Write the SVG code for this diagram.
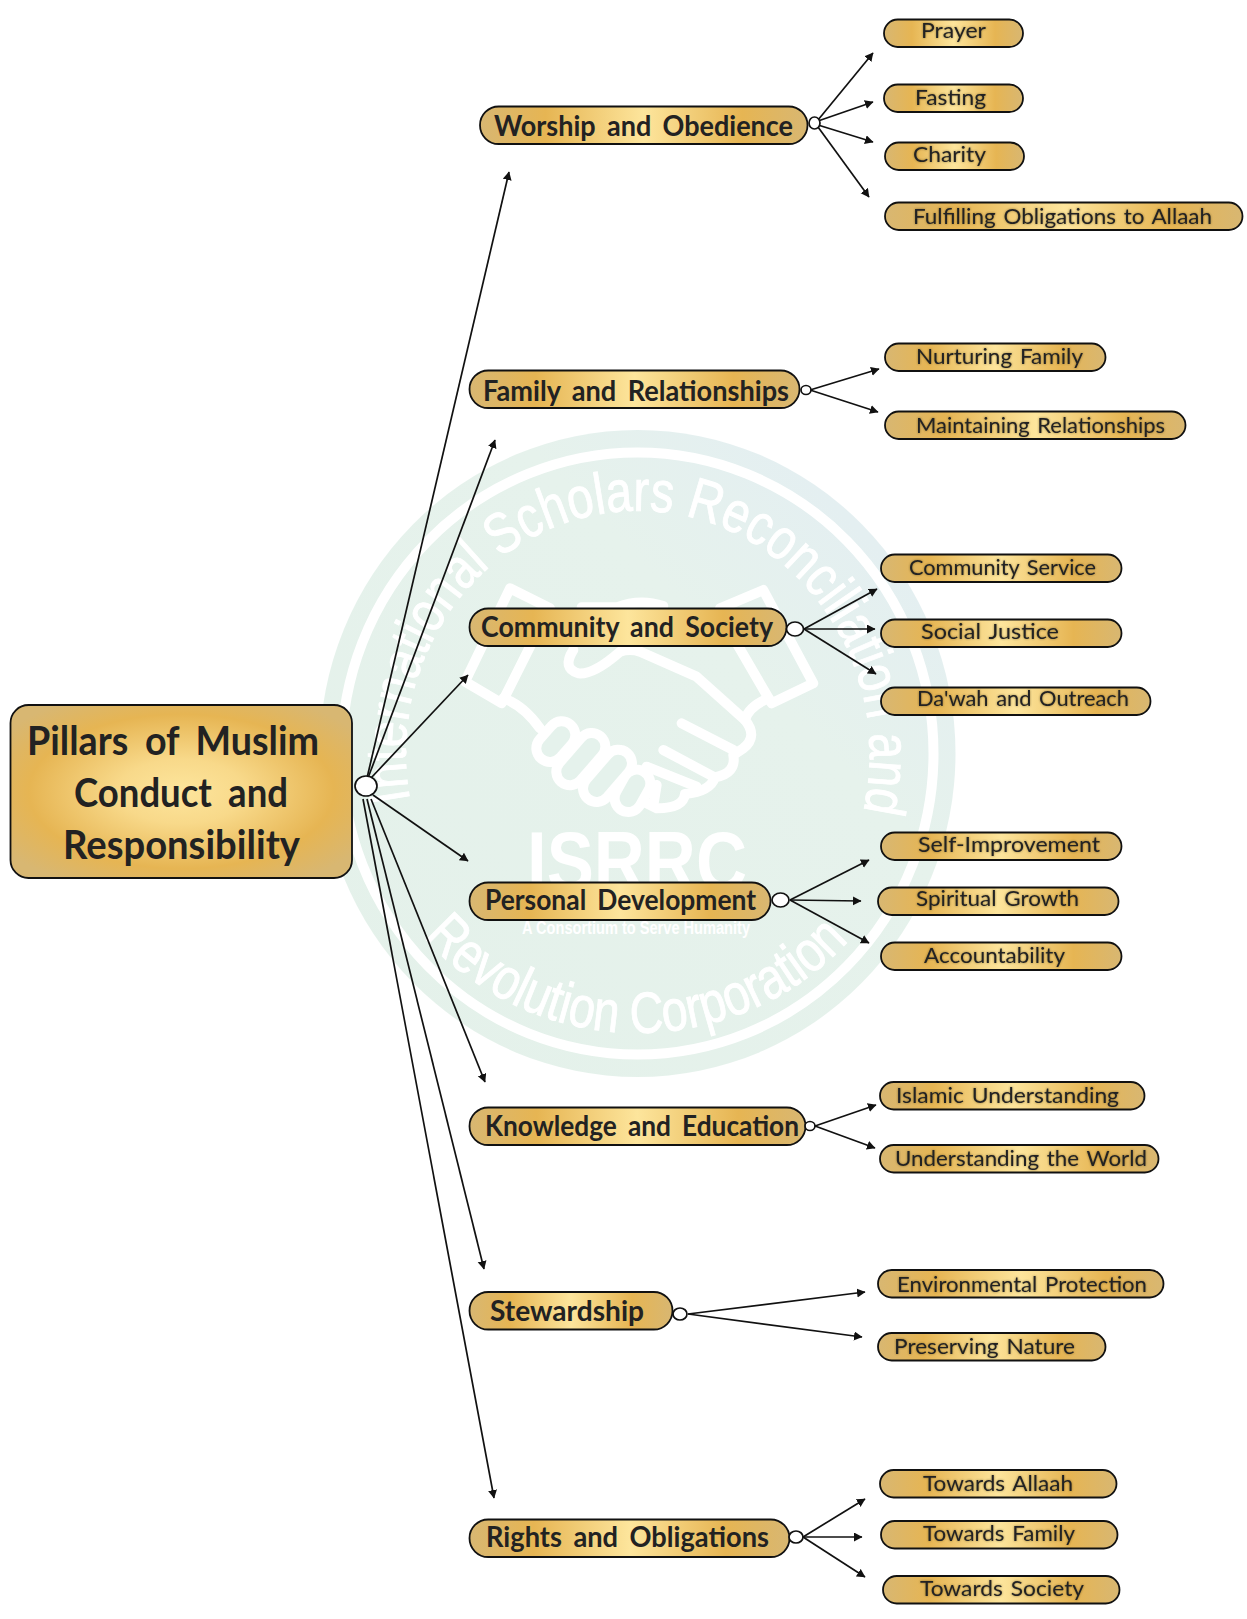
<svg xmlns="http://www.w3.org/2000/svg" width="1247" height="1619" viewBox="0 0 1247 1619">
<style>
text{font-family:"Lato","Open Sans",sans-serif;fill:#222}
.pill{fill:url(#gold);stroke:#111;stroke-width:1.8}
.rootbox{fill:url(#goldR);stroke:#111;stroke-width:1.8}
.dot{fill:#fff;stroke:#111;stroke-width:1.7}
.root{font-size:40px;font-weight:700;word-spacing:8px}
.l1{font-size:28px;font-weight:700;word-spacing:5px}
.leaf{font-size:21.5px;font-weight:400;filter:url(#soft);word-spacing:2px}
.conn line{stroke:#111;stroke-width:1.7;marker-end:url(#arr)}
.wm{fill:#fff;font-family:"Liberation Sans",sans-serif}
.ring{fill:#fff;stroke:#fff;stroke-width:.9}
.hs{fill:none;stroke:#fff;stroke-width:30;stroke-linejoin:round;stroke-linecap:round}
</style>
<defs>
<linearGradient id="gold" x1="0" x2="1" y1="0" y2="0">
<stop offset="0" stop-color="#d8b772"/><stop offset=".2" stop-color="#e6b553"/><stop offset=".5" stop-color="#fde59c"/><stop offset=".8" stop-color="#e6b553"/><stop offset="1" stop-color="#d8b772"/>
</linearGradient>
<radialGradient id="goldR" cx=".5" cy=".5" r=".62">
<stop offset="0" stop-color="#fde59c"/><stop offset=".3" stop-color="#f8d98a"/><stop offset=".72" stop-color="#e6b553"/><stop offset="1" stop-color="#d8b772"/>
</radialGradient>
<linearGradient id="wmfill" x1="0" y1="1" x2="1" y2="0">
<stop offset="0" stop-color="#e4f1ea"/><stop offset=".65" stop-color="#e6f2ec"/><stop offset=".85" stop-color="#e4eff1"/><stop offset="1" stop-color="#e6f2ec"/>
</linearGradient>
<marker id="arr" markerUnits="userSpaceOnUse" markerWidth="10" markerHeight="10" refX="8" refY="4.500" orient="auto">
<path d="M0 0L8.500 4.500L0 9Z" fill="#111"/>
</marker>
<filter id="soft" x="-5%" y="-30%" width="110%" height="160%">
<feDropShadow dx="0" dy="0" stdDeviation="1.3" flood-color="#3a2f10" flood-opacity=".55"/>
</filter>
<path id="topArc" d="M410 800A232 243 0 1 1 840 873"/>
<path id="botArc" d="M424 937A284 280 0 0 0 852 937"/>
</defs>

<g id="watermark">
<ellipse cx="637.500" cy="753.500" rx="318" ry="323.500" fill="url(#wmfill)"/>
<ellipse cx="637.500" cy="753.500" rx="296" ry="301" fill="none" stroke="#fff" stroke-width="10"/>
<text class="wm ring" font-size="58" textLength="850" lengthAdjust="spacingAndGlyphs"><textPath href="#topArc">International Scholars Reconciliation and</textPath></text>
<text class="wm ring" font-size="58" textLength="478" lengthAdjust="spacingAndGlyphs"><textPath href="#botArc">Revolution Corporation</textPath></text>
<g transform="translate(450 570) scale(.3333)">
<path class="hs" d="M300 115L180 55L45 335L155 400L270 170"/>
<path class="hs" d="M810 115L940 60L1090 340L965 400L860 220"/>
<path class="hs" d="M160 385Q220 405 270 475"/>
<path class="hs" d="M955 385Q895 410 885 450Q925 500 880 535Q865 545 850 555Q860 610 795 622Q780 665 705 672Q700 715 620 715L590 700"/>
<path class="hs" d="M395 112L500 112Q570 85 640 108"/>
<path class="hs" d="M370 240Q335 295 385 310Q430 315 510 245Q540 235 570 245L740 320L885 450"/>
<path class="hs" d="M695 460L850 540M640 540L790 620M590 590L740 650M620 645L612 695"/>
<path fill="none" stroke="#fff" stroke-width="112" stroke-linecap="round" d="M335 495L300 535M425 530L360 605M505 580L440 655M560 640L535 685"/>
<path fill="none" stroke="#e5f2ec" stroke-width="52" stroke-linecap="round" d="M335 495L300 535M425 530L360 605M505 580L440 655M560 640L535 685"/>
</g>
<text class="wm" x="527" y="890" font-size="84" font-weight="700" textLength="220" lengthAdjust="spacingAndGlyphs">ISRRC</text>
<text class="wm" x="522" y="934" font-size="18" font-weight="700" textLength="228" lengthAdjust="spacingAndGlyphs">A Consortium to Serve Humanity</text>
</g>

<g id="connectors" class="conn">
<line x1="367" y1="778" x2="509" y2="172"/>
<line x1="368" y1="778" x2="495" y2="440"/>
<line x1="371" y1="778" x2="468" y2="675"/>
<line x1="373" y1="795" x2="468" y2="861"/>
<line x1="371" y1="799" x2="485" y2="1082"/>
<line x1="367" y1="799" x2="484" y2="1269"/>
<line x1="363" y1="799" x2="494" y2="1498"/>
<line x1="818" y1="120" x2="873" y2="53"/>
<line x1="818" y1="121" x2="873" y2="102"/>
<line x1="818" y1="125" x2="873" y2="142"/>
<line x1="818" y1="127" x2="869" y2="197"/>
<line x1="810" y1="390" x2="879" y2="369"/>
<line x1="810" y1="390" x2="878" y2="412"/>
<line x1="804" y1="629" x2="877" y2="589"/>
<line x1="804" y1="629" x2="875" y2="629"/>
<line x1="804" y1="629" x2="876" y2="674"/>
<line x1="790" y1="900" x2="869" y2="860"/>
<line x1="790" y1="900" x2="861" y2="901"/>
<line x1="790" y1="900" x2="869" y2="943"/>
<line x1="815" y1="1126" x2="876" y2="1105"/>
<line x1="815" y1="1126" x2="875" y2="1148"/>
<line x1="688" y1="1314" x2="865" y2="1292"/>
<line x1="688" y1="1314" x2="862" y2="1337"/>
<line x1="803" y1="1537" x2="865" y2="1499"/>
<line x1="803" y1="1537" x2="862" y2="1537"/>
<line x1="803" y1="1537" x2="865" y2="1577"/>
</g>

<g id="root">
<rect class="rootbox" x="10.500" y="705" width="341.500" height="173" rx="18"/>
<ellipse class="dot" cx="366" cy="786" rx="11" ry="10"/>
<text class="root" x="27" y="755" textLength="292" lengthAdjust="spacingAndGlyphs">Pillars of Muslim</text>
<text class="root" x="74" y="807" textLength="214" lengthAdjust="spacingAndGlyphs">Conduct and</text>
<text class="root" x="63" y="859" textLength="237" lengthAdjust="spacingAndGlyphs">Responsibility</text>
</g>

<g id="worship"><rect class="pill" x="480" y="106.500" width="327.500" height="37.500" rx="18.700"/><ellipse class="dot" cx="814.500" cy="123" rx="5.500" ry="6"/><text class="l1" x="494" y="136" textLength="299" lengthAdjust="spacingAndGlyphs">Worship and Obedience</text></g>
<g id="family"><rect class="pill" x="469.500" y="370.500" width="330" height="37.500" rx="18.700"/><ellipse class="dot" cx="806" cy="390" rx="5" ry="4.500"/><text class="l1" x="483" y="401" textLength="306" lengthAdjust="spacingAndGlyphs">Family and Relationships</text></g>
<g id="community"><rect class="pill" x="469.500" y="608.500" width="317" height="37.500" rx="18.700"/><ellipse class="dot" cx="795" cy="629" rx="8.500" ry="7"/><text class="l1" x="481" y="637" textLength="292" lengthAdjust="spacingAndGlyphs">Community and Society</text></g>
<g id="personal"><rect class="pill" x="469.500" y="882.500" width="301" height="37.500" rx="18.700"/><ellipse class="dot" cx="780.500" cy="900" rx="8.500" ry="7"/><text class="l1" x="485" y="910" textLength="271" lengthAdjust="spacingAndGlyphs">Personal Development</text></g>
<g id="knowledge"><rect class="pill" x="469.500" y="1107.500" width="336" height="37.500" rx="18.700"/><ellipse class="dot" cx="810" cy="1126" rx="5" ry="4.500"/><text class="l1" x="485" y="1136" textLength="314" lengthAdjust="spacingAndGlyphs">Knowledge and Education</text></g>
<g id="stewardship"><rect class="pill" x="469.500" y="1292" width="203" height="37.500" rx="18.700"/><ellipse class="dot" cx="680" cy="1314" rx="7" ry="6"/><text class="l1" x="490" y="1321" textLength="154" lengthAdjust="spacingAndGlyphs">Stewardship</text></g>
<g id="rights"><rect class="pill" x="469.500" y="1519.500" width="320" height="37.500" rx="18.700"/><ellipse class="dot" cx="796" cy="1537" rx="7" ry="6"/><text class="l1" x="486" y="1547" textLength="283" lengthAdjust="spacingAndGlyphs">Rights and Obligations</text></g>

<g id="prayer"><rect class="pill" x="884" y="19.500" width="139" height="27.500" rx="13.700"/><text class="leaf" x="921" y="38" textLength="65" lengthAdjust="spacingAndGlyphs">Prayer</text></g>
<g id="fasting"><rect class="pill" x="884" y="84.500" width="139" height="27.500" rx="13.700"/><text class="leaf" x="915" y="105" textLength="71" lengthAdjust="spacingAndGlyphs">Fasting</text></g>
<g id="charity"><rect class="pill" x="885" y="142.500" width="139" height="27.500" rx="13.700"/><text class="leaf" x="913" y="162" textLength="73" lengthAdjust="spacingAndGlyphs">Charity</text></g>
<g id="fulfilling"><rect class="pill" x="885" y="202.500" width="357.500" height="27.500" rx="13.700"/><text class="leaf" x="913" y="224" textLength="299" lengthAdjust="spacingAndGlyphs">Fulfilling Obligations to Allaah</text></g>
<g id="nurturing"><rect class="pill" x="885" y="343.500" width="220.500" height="27.500" rx="13.700"/><text class="leaf" x="916" y="364" textLength="167" lengthAdjust="spacingAndGlyphs">Nurturing Family</text></g>
<g id="maintaining"><rect class="pill" x="885" y="411.500" width="300.500" height="27.500" rx="13.700"/><text class="leaf" x="916" y="433" textLength="249" lengthAdjust="spacingAndGlyphs">Maintaining Relationships</text></g>
<g id="service"><rect class="pill" x="881" y="554.500" width="240.500" height="27.500" rx="13.700"/><text class="leaf" x="909" y="575" textLength="187" lengthAdjust="spacingAndGlyphs">Community Service</text></g>
<g id="justice"><rect class="pill" x="881" y="619.500" width="240.500" height="27.500" rx="13.700"/><text class="leaf" x="921" y="639" textLength="138" lengthAdjust="spacingAndGlyphs">Social Justice</text></g>
<g id="dawah"><rect class="pill" x="881" y="687.500" width="269.500" height="27.500" rx="13.700"/><text class="leaf" x="917" y="706" textLength="212" lengthAdjust="spacingAndGlyphs">Da'wah and Outreach</text></g>
<g id="self"><rect class="pill" x="881" y="832.500" width="240.500" height="27.500" rx="13.700"/><text class="leaf" x="918" y="852" textLength="182" lengthAdjust="spacingAndGlyphs">Self-Improvement</text></g>
<g id="spiritual"><rect class="pill" x="878" y="887.500" width="240.500" height="27.500" rx="13.700"/><text class="leaf" x="916" y="906" textLength="163" lengthAdjust="spacingAndGlyphs">Spiritual Growth</text></g>
<g id="accountability"><rect class="pill" x="881" y="942.500" width="240.500" height="27.500" rx="13.700"/><text class="leaf" x="924" y="963" textLength="141" lengthAdjust="spacingAndGlyphs">Accountability</text></g>
<g id="islamic"><rect class="pill" x="880" y="1082" width="264.500" height="27.500" rx="13.700"/><text class="leaf" x="896" y="1103" textLength="223" lengthAdjust="spacingAndGlyphs">Islamic Understanding</text></g>
<g id="world"><rect class="pill" x="880" y="1145" width="278.500" height="27.500" rx="13.700"/><text class="leaf" x="895" y="1166" textLength="252" lengthAdjust="spacingAndGlyphs">Understanding the World</text></g>
<g id="environment"><rect class="pill" x="878" y="1270" width="285.500" height="27.500" rx="13.700"/><text class="leaf" x="897" y="1292" textLength="250" lengthAdjust="spacingAndGlyphs">Environmental Protection</text></g>
<g id="nature"><rect class="pill" x="878" y="1333" width="227.500" height="27.500" rx="13.700"/><text class="leaf" x="894" y="1354" textLength="181" lengthAdjust="spacingAndGlyphs">Preserving Nature</text></g>
<g id="allaah"><rect class="pill" x="880" y="1470" width="236.500" height="27.500" rx="13.700"/><text class="leaf" x="923" y="1491" textLength="150" lengthAdjust="spacingAndGlyphs">Towards Allaah</text></g>
<g id="tfamily"><rect class="pill" x="881" y="1521" width="236.500" height="27.500" rx="13.700"/><text class="leaf" x="923" y="1541" textLength="152" lengthAdjust="spacingAndGlyphs">Towards Family</text></g>
<g id="society"><rect class="pill" x="883" y="1576" width="236.500" height="27.500" rx="13.700"/><text class="leaf" x="920" y="1596" textLength="164" lengthAdjust="spacingAndGlyphs">Towards Society</text></g>
</svg>
